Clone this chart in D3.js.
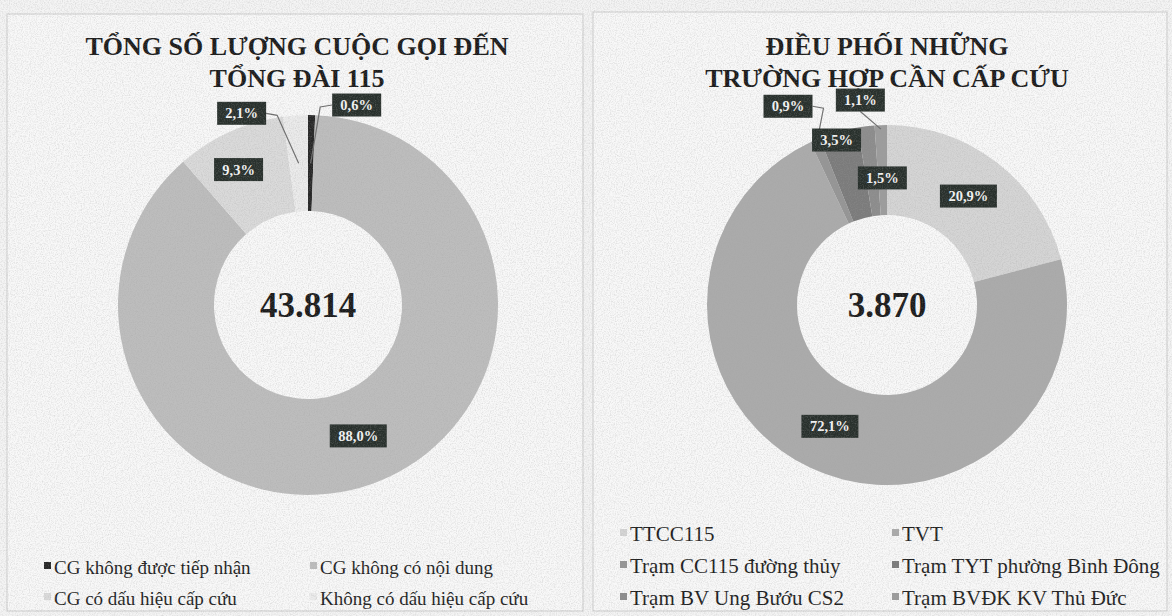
<!DOCTYPE html>
<html>
<head>
<meta charset="utf-8">
<script src="https://cdn.jsdelivr.net/npm/d3@7"></script>
<style>
	body { margin: 0; background: #f2f2f2; }
	svg { display: block; }
</style>
</head>
<body>
<svg id="chart" width="1172" height="616"></svg>
<script>
// Left donut: calls to the 115 switchboard
const callTitle = ["TỔNG SỐ LƯỢNG CUỘC GỌI ĐẾN", "TỔNG ĐÀI 115"];
const callLabels = ["CG không được tiếp nhận", "CG không có nội dung", "CG có dấu hiệu cấp cứu", "Không có dấu hiệu cấp cứu"];
const callShares = [0.6, 88.0, 9.3, 2.1];
const callTotal = "43.814";

// Right donut: dispatch of emergency cases
const dispatchTitle = ["ĐIỀU PHỐI NHỮNG", "TRƯỜNG HỢP CẦN CẤP CỨU"];
const dispatchLabels = ["TTCC115", "TVT", "Trạm CC115 đường thủy", "Trạm TYT phường Bình Đông", "Trạm BV Ung Bướu CS2", "Trạm BVĐK KV Thủ Đức"];
const dispatchShares = [20.9, 72.1, 0.9, 3.5, 1.5, 1.1];
const dispatchTotal = "3.870";

const svg = d3.select("#chart");
const pct = d3.formatLocale({ decimal: ",", thousands: ".", grouping: [3], currency: ["", ""] }).format(".1f");
const serif = "'Liberation Serif', 'Times New Roman', serif";

// scanned-paper grain
const defs = svg.append("defs");
const grain = defs.append("filter").attr("id", "grain").attr("x", 0).attr("y", 0).attr("width", "100%").attr("height", "100%");
grain.append("feTurbulence").attr("type", "fractalNoise").attr("baseFrequency", 0.85).attr("numOctaves", 2).attr("seed", 4);
grain.append("feColorMatrix").attr("values", "0 0 0 0 0.35  0 0 0 0 0.35  0 0 0 0 0.35  0 0 0 -1.6 0.95");

svg.append("rect").attr("width", 1172).attr("height", 616).attr("fill", "#f4f4f4");

const charts = [
	{
		title: callTitle, labels: callLabels, shares: callShares, total: callTotal,
		panel: { x: 7, y: 14, w: 576, h: 597 },
		titleX: 297,
		cx: 308, cy: 305, inner: 94, outer: 190,
		colors: ["#262626", "#bdbdbd", "#dadada", "#ebebeb"],
		// label offset from slice centroid, and where its leader line starts
		labelShift: [[46, -58, "left"], [3, -3, null], [-11, -6, null], [-57, -50, "right"]],
		leaderR: 142,
		legendCols: [44, 310], legendRows: [574, 605], legendSize: 19,
	},
	{
		title: dispatchTitle, labels: dispatchLabels, shares: dispatchShares, total: dispatchTotal,
		panel: { x: 593, y: 12, w: 574, h: 599 },
		titleX: 887,
		cx: 887, cy: 305, inner: 90, outer: 180,
		colors: ["#d5d5d5", "#ababab", "#959595", "#7b7b7b", "#8c8c8c", "#9c9c9c"],
		labelShift: [[-1, -2, null], [0, -1, null], [-45, -75, "right"], [-14, -35, null], [11, 7, null], [-22, -70, "bottom"]],
		leaderR: 176,
		legendCols: [620, 892], legendRows: [541, 573, 605], legendSize: 21,
	},
];

charts.forEach(render);

function render(c) {
	const g = svg.append("g");

	g.append("rect")
		.attr("x", c.panel.x).attr("y", c.panel.y)
		.attr("width", c.panel.w).attr("height", c.panel.h)
		.attr("fill", "#f8f8f8")
		.attr("stroke", "#cdcdcd")
		.attr("stroke-width", 1);

	// Title
	g.append("g").selectAll("text")
		.data(c.title)
		.join("text")
		.attr("x", c.titleX)
		.attr("y", (d, i) => 55 + i * 32)
		.attr("text-anchor", "middle")
		.attr("fill", "#1a1a1a")
		.style("font-family", serif)
		.style("font-weight", "bold")
		.style("font-size", "26px")
		.text((d) => d);

	const items = c.shares.map((v, i) => ({ label: c.labels[i], value: v, index: i }));
	const color = d3.scaleOrdinal().domain(c.labels).range(c.colors);
	const pie = d3.pie().value((d) => d.value).sort(null);
	const arcs = pie(items);
	const arc = d3.arc().innerRadius(c.inner).outerRadius(c.outer);

	const donut = g.append("g").attr("transform", `translate(${c.cx},${c.cy})`);
	donut.selectAll("path")
		.data(arcs)
		.join("path")
		.attr("d", arc)
		.attr("fill", (d) => color(d.data.label));

	donut.append("text")
		.attr("y", 12)
		.attr("text-anchor", "middle")
		.attr("fill", "#1a1a1a")
		.style("font-family", serif)
		.style("font-weight", "bold")
		.style("font-size", "35px")
		.text(c.total);

	// Data labels
	const boxH = 23;
	const labelG = donut.append("g");
	arcs.forEach((d, i) => {
		const [cxp, cyp] = arc.centroid(d);
		const [dx, dy, lead] = c.labelShift[i];
		const lx = cxp + dx, ly = cyp + dy;
		const txt = pct(d.data.value) + "%";
		const boxW = txt.length > 4 ? 57 : 49;

		if (lead) {
			const mid = (d.startAngle + d.endAngle) / 2;
			const tx = Math.sin(mid) * c.leaderR, ty = -Math.cos(mid) * c.leaderR;
			let pts;
			if (lead === "left") pts = [[lx - boxW / 2, ly], [lx - boxW / 2 - 12, ly + 2], [tx, ty]];
			else if (lead === "right") pts = [[lx + boxW / 2, ly], [lx + boxW / 2 + 11, ly + 2], [tx, ty]];
			else pts = [[lx, ly + boxH / 2], [tx, ty]];
			labelG.append("path")
				.attr("d", d3.line()(pts))
				.attr("fill", "none")
				.attr("stroke", "#6e6e6e")
				.attr("stroke-width", 1.2);
		}

		labelG.append("rect")
			.attr("x", lx - boxW / 2).attr("y", ly - boxH / 2)
			.attr("width", boxW).attr("height", boxH)
			.attr("fill", "#28302c");
		labelG.append("text")
			.attr("x", lx).attr("y", ly + 5)
			.attr("text-anchor", "middle")
			.attr("fill", "#f4f4f4")
			.style("font-family", serif)
			.style("font-weight", "bold")
			.style("font-size", "14.5px")
			.text(txt);
	});

	// Legend, two columns
	const legend = g.append("g").selectAll("g")
		.data(items)
		.join("g")
		.attr("transform", (d) => `translate(${c.legendCols[d.index % 2]},${c.legendRows[Math.floor(d.index / 2)]})`);
	legend.append("rect")
		.attr("x", 0).attr("y", -12)
		.attr("width", 7).attr("height", 7)
		.attr("fill", (d) => color(d.label));
	legend.append("text")
		.attr("x", 10)
		.attr("fill", "#1e1e1e")
		.style("font-family", serif)
		.style("font-size", c.legendSize + "px")
		.text((d) => d.label);
}

svg.append("rect")
	.attr("width", 1172).attr("height", 616)
	.attr("filter", "url(#grain)")
	.attr("opacity", 0.4)
	.style("pointer-events", "none");
</script>
</body>
</html>
